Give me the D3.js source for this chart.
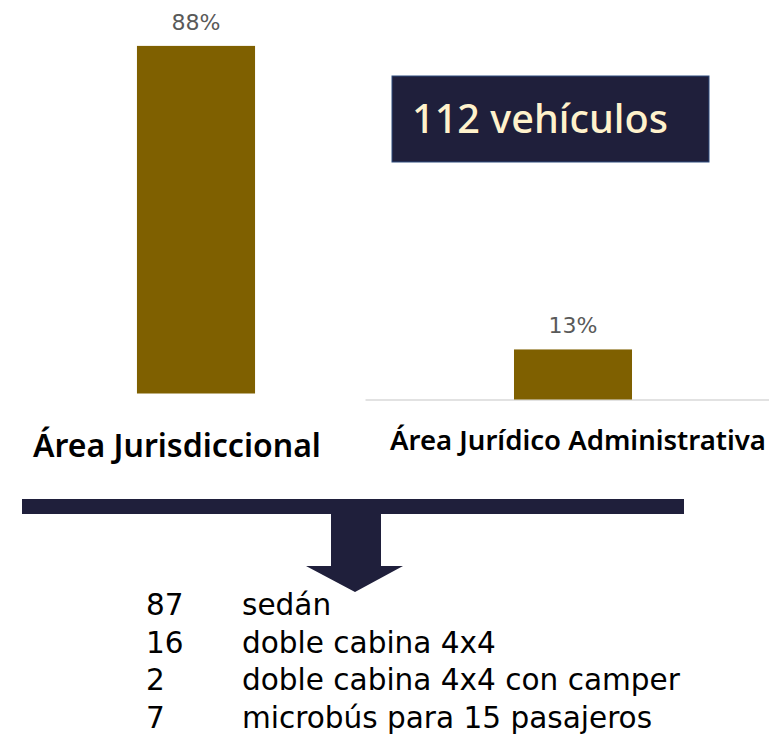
<!DOCTYPE html>
<html>
<head>
<meta charset="utf-8">
<script src="https://cdn.jsdelivr.net/npm/d3@7"></script>
<style>
  body { margin: 0; background: #fff; }
  svg { display: block; font-family: "DejaVu Sans", sans-serif; }
</style>
</head>
<body>
<svg id="chart"></svg>
<script>
const categories = ["Área Jurisdiccional", "Área Jurídico Administrativa"];
const shares = [88, 13];
const totalLabel = "112 vehículos";
const vehicleCounts = [87, 16, 2, 7];
const vehicleTypes = ["sedán", "doble cabina 4x4", "doble cabina 4x4 con camper", "microbús para 15 pasajeros"];

const W = 769, H = 735;
const barColor = "#7f6000";
const navy = "#1f1f3b";

const svg = d3.select("#chart").attr("width", W).attr("height", H);

// shrink/grow font so a text hits the width seen in the picture
function fit(sel, width) {
  const node = sel.node();
  const fs = parseFloat(sel.style("font-size"));
  const w = node.getComputedTextLength();
  sel.style("font-size", (fs * width / w).toFixed(2) + "px");
  return sel;
}

// two small panels, one bar each
const panels = [
  { cat: categories[0], val: shares[0], x0: 0, x1: 392, pad: 0.537, base: 393.5, top: -1.5, labelDx: -19, labelY: 457, labelW: 288, axis: false },
  { cat: categories[1], val: shares[1], x0: 365, x1: 781, pad: 0.558, base: 399.5, top: 14.5, labelDx: 5, labelY: 450, labelW: 376, axis: true }
];

panels.forEach(p => {
  const x = d3.scaleBand().domain([p.cat]).range([p.x0, p.x1]).padding(p.pad);
  const y = d3.scaleLinear().domain([0, 100]).range([p.base, p.top]);
  const g = svg.append("g");

  if (p.axis) {
    g.append("g")
      .attr("transform", `translate(0,${p.base})`)
      .call(d3.axisBottom(x).tickSize(0).tickFormat(""))
      .call(a => a.select(".domain").attr("stroke", "#d9d9d9").attr("stroke-width", 1.5));
  }

  g.append("rect")
    .attr("x", x(p.cat))
    .attr("width", x.bandwidth())
    .attr("y", y(p.val))
    .attr("height", y(0) - y(p.val))
    .attr("fill", barColor);

  fit(g.append("text")
    .attr("x", x(p.cat) + x.bandwidth() / 2)
    .attr("y", y(p.val) - 16)
    .attr("text-anchor", "middle")
    .attr("fill", "#595959")
    .style("font-size", "19px")
    .text(p.val + "%"), 49);

  const lab = g.append("text")
    .attr("x", x(p.cat) + x.bandwidth() / 2 + p.labelDx)
    .attr("y", p.labelY)
    .attr("text-anchor", "middle")
    .attr("fill", "#000")
    .style("font-family", "'Noto Sans', sans-serif")
    .style("font-size", "24px")
    .style("font-weight", 600)
    .text(p.cat);
  fit(lab, p.labelW);
});

// total box
svg.append("rect")
  .attr("x", 392).attr("y", 76).attr("width", 317).attr("height", 86)
  .attr("fill", navy).attr("stroke", "#2f4d7f").attr("stroke-width", 1);
fit(svg.append("text")
  .attr("x", 412).attr("y", 133)
  .attr("fill", "#fff2cc")
  .style("font-family", "'Noto Sans', sans-serif")
  .style("font-weight", 500)
  .style("font-size", "34px")
  .text(totalLabel), 256);

// bracket + arrow
svg.append("rect").attr("x", 22).attr("y", 499).attr("width", 662).attr("height", 15).attr("fill", navy);
svg.append("path")
  .attr("d", "M331,514 L381,514 L381,566 L403,566 L355,592 L306,566 L331,566 Z")
  .attr("fill", navy);

// vehicle breakdown
const ly = d3.scaleBand().domain(d3.range(vehicleCounts.length)).range([588, 738]);
const rows = svg.append("g").selectAll("g")
  .data(vehicleCounts.map((c, i) => ({ c, t: vehicleTypes[i], i })))
  .join("g")
  .attr("transform", d => `translate(0,${ly(d.i) + 27})`);
rows.append("text").attr("x", 146).attr("fill", "#000").style("font-size", "27px").text(d => d.c);
const types = rows.append("text").attr("x", 242).attr("fill", "#000").style("font-size", "27px").text(d => d.t);
// size the list so the longest line spans as in the picture
const longest = types.filter(d => d.i === 2);
fit(longest, 438);
rows.selectAll("text").style("font-size", longest.style("font-size"));
</script>
</body>
</html>
